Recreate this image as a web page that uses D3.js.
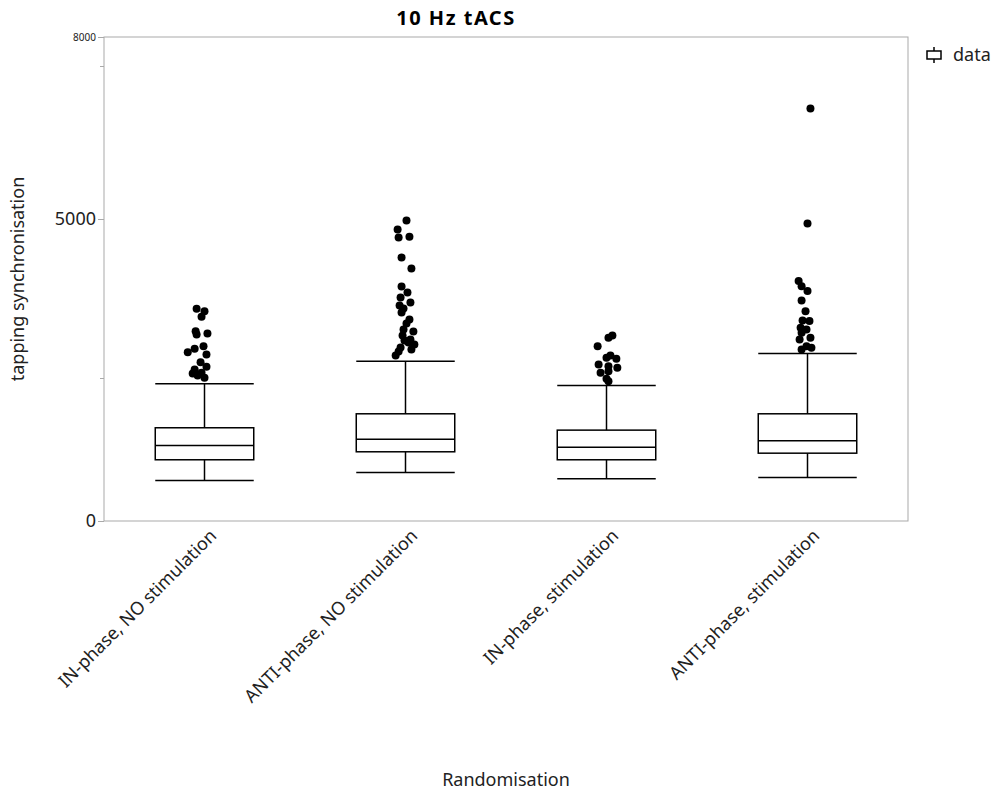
<!DOCTYPE html>
<html>
<head>
<meta charset="utf-8">
<script src="https://cdn.jsdelivr.net/npm/d3@7"></script>
<style>
  body { margin: 0; background: #fff; }
  svg text { font-family: "Noto Sans", "Open Sans", sans-serif; fill: #222; }
</style>
</head>
<body>
<div id="chart"></div>
<script>
// categories and box statistics
var categories = ['IN-phase, NO stimulation', 'ANTI-phase, NO stimulation', 'IN-phase, stimulation', 'ANTI-phase, stimulation'];
var lowerWhisker = [670, 802, 697, 719];
var q1 = [1012, 1144, 1012, 1121];
var median = [1248, 1353, 1221, 1326];
var q3 = [1541, 1772, 1502, 1772];
var upperWhisker = [2268, 2642, 2240, 2769];

// outliers per group
var outliers1 = [3509, 3469, 3376, 3138, 3084, 3100, 2890, 2847, 2791, 2753, 2626, 2550, 2505, 2450, 2439, 2368, 2406];
var outliers2 = [4969, 4820, 4687, 4700, 4357, 4175, 3876, 3777, 3695, 3612, 3562, 3512, 3446, 3332, 3265, 3166, 3133, 3067, 3001, 2984, 2951, 2918, 2869, 2836, 2803, 2737];
var outliers3 = [3067, 3029, 2890, 2736, 2698, 2682, 2588, 2559, 2533, 2450, 2477, 2351, 2311];
var outliers4 = [6820, 4919, 3965, 3882, 3800, 3646, 3469, 3315, 3304, 3194, 3166, 3112, 3029, 3001, 2890, 2864, 2836];
// horizontal jitter of each outlier, as a share of the box width
var jitter1 = [-0.08, 0, -0.03, -0.09, -0.08, 0.03, -0.01, -0.1, -0.17, 0.02, -0.04, 0.02, -0.1, -0.03, -0.12, 0, -0.07];
var jitter2 = [0.01, -0.08, -0.07, 0.04, -0.04, 0.06, -0.04, 0.02, -0.05, 0.05, -0.06, -0.02, -0.04, 0.04, 0.01, -0.02, 0.08, -0.03, 0.05, -0.01, 0.03, 0.09, -0.05, 0.06, -0.07, -0.1];
var jitter3 = [0.06, 0.02, -0.09, 0.04, 0, 0.1, -0.08, 0.02, 0.11, -0.06, 0.02, 0, 0.02];
var jitter4 = [0.03, 0, -0.09, -0.06, 0, -0.06, -0.02, -0.05, 0.02, -0.07, -0.01, -0.06, 0.03, -0.08, -0.01, 0.04, -0.06];

var outliers = [outliers1, outliers2, outliers3, outliers4];
var jitters = [jitter1, jitter2, jitter3, jitter4];

var yTicks = [0, 2360, 5000, 7520, 8000];
var yTickLabels = ['0', '', '5000', '', '8000'];

var width = 992, height = 794,
	margin = {left: 104, right: 84, top: 37, bottom: 273},
	axisColor = '#a9a9a9';

var svg = d3.select('#chart').append('svg')
	.attr('width', width)
	.attr('height', height);

var x = d3.scaleBand()
	.domain(categories)
	.range([margin.left, width - margin.right]);

var y = d3.scaleLinear()
	.domain([0, 8000])
	.range([height - margin.bottom, margin.top]);

var boxW = x.bandwidth() * 0.49;

// plot frame
svg.append('rect')
	.attr('x', margin.left)
	.attr('y', margin.top)
	.attr('width', width - margin.left - margin.right)
	.attr('height', height - margin.top - margin.bottom)
	.attr('fill', 'none')
	.attr('stroke', axisColor);

// y axis ticks
var yAxis = svg.append('g');
yAxis.selectAll('line')
	.data(yTicks)
	.enter().append('line')
	.attr('x1', function(d, i) { return margin.left - (yTickLabels[i] ? 6 : 4); })
	.attr('x2', margin.left)
	.attr('y1', function(d) { return Math.round(y(d)) + 0.5; })
	.attr('y2', function(d) { return Math.round(y(d)) + 0.5; })
	.attr('stroke', axisColor);
yAxis.selectAll('text')
	.data(yTicks)
	.enter().append('text')
	.text(function(d, i) { return yTickLabels[i]; })
	.attr('x', margin.left - 8)
	.attr('y', function(d) { return y(d); })
	.attr('dy', '0.35em')
	.attr('text-anchor', 'end')
	.attr('font-size', function(d) { return d === 8000 ? 10 : 18; });

// x tick labels, rotated
svg.append('g').selectAll('text')
	.data(categories)
	.enter().append('text')
	.text(function(d) { return d; })
	.attr('transform', function(d) {
		return 'translate(' + (x(d) + x.bandwidth() / 2 + 13) + ',' + (height - margin.bottom + 16) + ') rotate(-45)';
	})
	.attr('text-anchor', 'end')
	.attr('font-size', 18);

// boxes
var groups = svg.append('g').selectAll('g')
	.data(categories)
	.enter().append('g')
	.attr('transform', function(d) { return 'translate(' + (x(d) + x.bandwidth() / 2) + ',0)'; });

groups.append('line')
	.attr('x1', 0).attr('x2', 0)
	.attr('y1', function(d, i) { return y(upperWhisker[i]); })
	.attr('y2', function(d, i) { return y(q3[i]); })
	.attr('stroke', '#000').attr('stroke-width', 1.5);
groups.append('line')
	.attr('x1', 0).attr('x2', 0)
	.attr('y1', function(d, i) { return y(q1[i]); })
	.attr('y2', function(d, i) { return y(lowerWhisker[i]); })
	.attr('stroke', '#000').attr('stroke-width', 1.5);
[upperWhisker, median, lowerWhisker].forEach(function(arr) {
	groups.append('line')
		.attr('x1', -boxW / 2).attr('x2', boxW / 2)
		.attr('y1', function(d, i) { return y(arr[i]); })
		.attr('y2', function(d, i) { return y(arr[i]); })
		.attr('stroke', '#000').attr('stroke-width', 1.5);
});
groups.append('rect')
	.attr('x', -boxW / 2)
	.attr('width', boxW)
	.attr('y', function(d, i) { return y(q3[i]); })
	.attr('height', function(d, i) { return y(q1[i]) - y(q3[i]); })
	.attr('fill', 'none')
	.attr('stroke', '#000').attr('stroke-width', 1.5);

// outlier dots
groups.each(function(d, i) {
	d3.select(this).selectAll('circle')
		.data(outliers[i])
		.enter().append('circle')
		.attr('cx', function(v, k) { return jitters[i][k] * boxW; })
		.attr('cy', function(v) { return y(v); })
		.attr('r', 4)
		.attr('fill', '#000');
});

// title and axis labels
svg.append('text')
	.text('10 Hz tACS')
	.attr('x', 456).attr('y', 25)
	.attr('text-anchor', 'middle')
	.attr('font-size', 20)
	.attr('font-weight', 'bold')
	.attr('letter-spacing', 1.5)
	.style('fill', '#000');

svg.append('text')
	.text('tapping synchronisation')
	.attr('transform', 'translate(24,' + 279 + ') rotate(-90)')
	.attr('text-anchor', 'middle')
	.attr('font-size', 18);

svg.append('text')
	.text('Randomisation')
	.attr('x', 506).attr('y', 786)
	.attr('text-anchor', 'middle')
	.attr('font-size', 18);

// legend
var legend = svg.append('g').attr('transform', 'translate(934,55)');
legend.append('line').attr('x1', 0).attr('x2', 0).attr('y1', -8).attr('y2', 8).attr('stroke', '#000').attr('stroke-width', 1.5);
legend.append('rect').attr('x', -7).attr('y', -4).attr('width', 14).attr('height', 8).attr('fill', '#fff').attr('stroke', '#000').attr('stroke-width', 1.5);
legend.append('text').text('data').attr('x', 19).attr('y', 0).attr('dy', '0.35em').attr('font-size', 18);
</script>
</body>
</html>
